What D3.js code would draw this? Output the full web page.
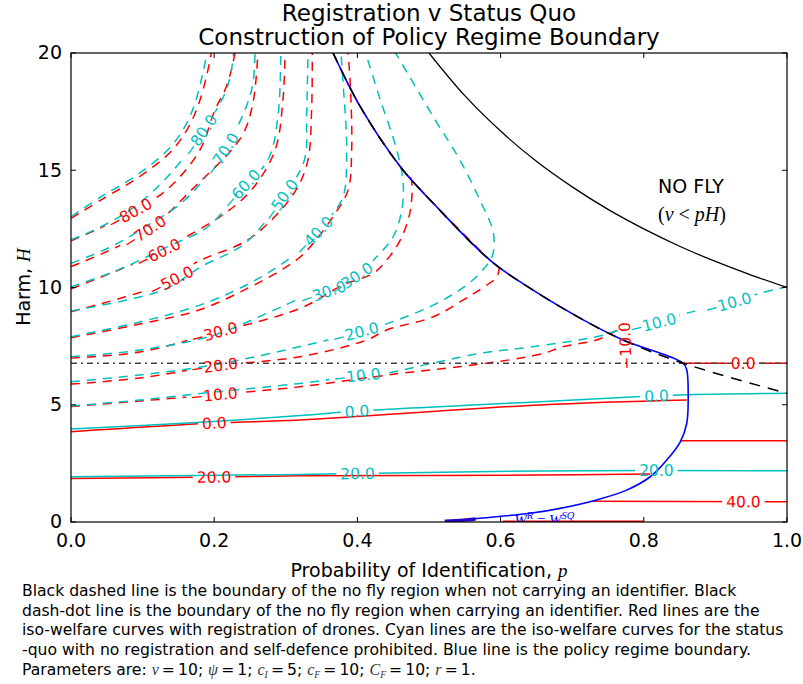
<!DOCTYPE html>
<html><head><meta charset="utf-8">
<script src="https://cdn.jsdelivr.net/npm/d3@7"></script>
<style>
body{margin:0;background:#fff;}
svg{display:block;font-family:"DejaVu Sans",sans-serif;}
</style></head><body>
<svg id="chart" width="803" height="684"></svg>
<script>
// ---------------- data (p = probability of identification, H = harm) ----------------
const pTicks = [0, 0.2, 0.4, 0.6, 0.8, 1.0];
const hTicks = [0, 5, 10, 15, 20];

const noFlyBoundary = [[0.5,20],[0.55,18.18],[0.6,16.67],[0.65,15.38],[0.7,14.29],[0.75,13.33],[0.8,12.5],[0.85,11.76],[0.9,11.11],[0.95,10.53],[1.0,10.0]];
const noIdBoundary = [[0.366,20],[0.404,17.71],[0.46,15.15],[0.506,13.59],[0.585,11.17],[0.641,9.97],[0.716,8.61],[0.771,7.76],[0.855,6.77],[1.0,5.49]];
const idBoundary = [[0,6.77],[1,6.77]];
const policyBoundary = [[0.366,20],[0.404,17.71],[0.46,15.15],[0.506,13.59],[0.585,11.17],[0.641,9.97],[0.716,8.61],[0.771,7.76],[0.855,6.77],[0.86,6.48],[0.862,5.34],[0.86,4.21],[0.851,3.42],[0.832,2.64],[0.809,1.93],[0.776,1.36],[0.734,0.94],[0.683,0.58],[0.641,0.37],[0.571,0.16],[0.522,0.01]];
const policyBoundaryFoot = [[0.522,0.03],[0.548,0.08],[0.565,0.13]];
const redAlongBoundary = [[0.366,20],[0.404,17.71],[0.46,15.15],[0.506,13.59],[0.585,11.17]];

// registration (red) iso-welfare curves
const redM90 = [[0,12.95],[0.045,13.79],[0.092,14.65],[0.139,15.78],[0.163,16.78],[0.178,17.8],[0.19,19.1],[0.196,20]];
const redM80 = [[0,11.99],[0.082,13.15],[0.135,14.2],[0.18,15.86],[0.201,17.57],[0.215,18.42],[0.224,19.27],[0.229,20]];
const redM70 = [[0,10.89],[0.103,12.37],[0.173,14.3],[0.238,16.43],[0.254,17.85],[0.261,20]];
const redM60 = [[0,9.94],[0.122,11.47],[0.149,11.95],[0.215,13.16],[0.252,14.16],[0.285,15.86],[0.296,18.0],[0.299,20]];
const redM50 = [[0,8.97],[0.14,10.28],[0.173,11.04],[0.247,12.03],[0.293,13.3],[0.317,14.3],[0.331,15.44],[0.336,17.5],[0.337,20]];
const redM40 = [[0,7.86],[0.096,8.44],[0.18,9.05],[0.247,9.97],[0.294,10.75],[0.32,11.3],[0.338,11.88],[0.366,13.02],[0.387,14.16],[0.392,15.86],[0.39,18.71],[0.387,20]];
const redM30 = [[0,6.99],[0.096,7.25],[0.2,8.06],[0.32,9.11],[0.38,10.11],[0.422,10.6],[0.441,11.17],[0.46,12.03],[0.474,13.3],[0.474,14.72],[0.465,14.93]];
const redM20 = [[0,5.88],[0.096,6.14],[0.2,6.65],[0.32,7.05],[0.413,7.76],[0.441,8.19],[0.506,8.75],[0.548,9.47],[0.574,9.97],[0.595,10.46],[0.598,10.83]];
const redM10 = [[0,4.92],[0.096,5.16],[0.2,5.42],[0.32,5.77],[0.46,6.34],[0.562,6.7],[0.655,7.15],[0.688,7.48],[0.734,7.76],[0.753,8.02],[0.77,8.23],[0.774,7.55],[0.774,6.78]];
const red0Left = [[0,3.85],[0.2,4.22],[0.32,4.35],[0.655,4.99],[0.86,5.2]];
const red0Right = [[0.855,6.77],[1.0,6.77]];
const red20Left = [[0,1.86],[0.2,1.92],[0.32,1.97],[0.655,2.0],[0.809,2.05]];
const red20Right = [[0.851,3.47],[1.0,3.47]];
const red40 = [[0.729,0.88],[1.0,0.86]];
const red60 = [[0.603,0.03],[0.8,0.03]];

// status quo (cyan) iso-welfare curves
const cyanM90 = [[0,13.02],[0.042,13.87],[0.089,14.73],[0.135,15.86],[0.159,16.86],[0.173,17.85],[0.184,19.13],[0.19,20]];
const cyanM80 = [[0,12.03],[0.042,12.59],[0.089,13.45],[0.135,14.73],[0.18,16.47],[0.215,18.28],[0.224,19.27],[0.227,20]];
const cyanM70 = [[0,11.03],[0.056,11.74],[0.112,12.74],[0.159,13.73],[0.211,15.69],[0.243,17.57],[0.254,18.71],[0.257,20]];
const cyanM60 = [[0,10.03],[0.066,10.75],[0.135,11.74],[0.191,12.59],[0.238,14.2],[0.275,15.44],[0.289,17.28],[0.293,20]];
const cyanM50 = [[0,9.0],[0.089,9.54],[0.135,9.97],[0.182,10.89],[0.243,11.88],[0.293,13.73],[0.326,15.44],[0.329,17.28],[0.331,20]];
const cyanM40 = [[0,7.9],[0.096,8.53],[0.18,9.25],[0.25,10.19],[0.306,11.26],[0.339,12.2],[0.362,13.02],[0.38,13.87],[0.385,15.86],[0.38,18.71],[0.377,20]];
const cyanM30 = [[0,7.05],[0.096,7.33],[0.2,7.97],[0.278,8.96],[0.322,9.54],[0.352,9.77],[0.392,10.36],[0.427,11.31],[0.45,12.17],[0.462,13.3],[0.464,14.44],[0.455,15.86],[0.432,18.0],[0.413,19.84],[0.411,20]];
const cyanM20 = [[0,5.98],[0.096,6.27],[0.2,6.7],[0.32,7.48],[0.397,8.06],[0.436,8.4],[0.506,9.25],[0.553,10.11],[0.575,10.75],[0.588,11.31],[0.59,12.31],[0.571,13.73],[0.543,15.44],[0.506,17.28],[0.455,19.91],[0.453,20]];
const cyanM10 = [[0,4.95],[0.096,5.2],[0.2,5.54],[0.32,5.91],[0.399,6.23],[0.441,6.35],[0.506,6.78],[0.575,7.21],[0.641,7.46],[0.734,7.9],[0.767,8.19],[0.813,8.46],[0.86,8.9],[0.918,9.32],[0.962,9.75],[1.0,10.03]];
const cyan0 = [[0,3.97],[0.182,4.25],[0.331,4.56],[0.399,4.73],[0.655,5.13],[0.79,5.34],[0.851,5.42],[1.0,5.49]];
const cyan20 = [[0,1.93],[0.32,2.03],[0.426,2.08],[0.655,2.18],[1.0,2.19]];

// ---------------- drawing ----------------
const RED = "#ff0000", CYAN = "#00bfbf";
const svg = d3.select('#chart');
const X0 = 71, X1 = 787, Y0 = 53, Y1 = 522;
const x = d3.scaleLinear().domain([0, 1]).range([X0, X1]);
const y = d3.scaleLinear().domain([0, 20]).range([Y1, Y0]);
const defs = svg.append('defs');
defs.append('clipPath').attr('id', 'plotclip').append('rect')
  .attr('x', X0).attr('y', Y0).attr('width', X1 - X0).attr('height', Y1 - Y0);

const smooth = d3.line().x(d => x(d[0])).y(d => y(d[1])).curve(d3.curveCatmullRom.alpha(0.5));
const straight = d3.line().x(d => x(d[0])).y(d => y(d[1]));

const plot = svg.append('g').attr('clip-path', 'url(#plotclip)');
const lineG = plot.append('g');
const labelG = svg.append('g').attr('clip-path', 'url(#plotclip)');

const specs = [
  {pts: redM90, color: RED, level: -90},
  {pts: redM80, color: RED, level: -80, at: [[0.082, 13.16]]},
  {pts: redM70, color: RED, level: -70, at: [[0.103, 12.37]]},
  {pts: redM60, color: RED, level: -60, at: [[0.122, 11.47]]},
  {pts: redM50, color: RED, level: -50, at: [[0.14, 10.28]]},
  {pts: redM40, color: RED, level: -40},
  {pts: redM30, color: RED, level: -30, at: [[0.2, 8.06]]},
  {pts: redM20, color: RED, level: -20, at: [[0.2, 6.65]]},
  {pts: redM10, color: RED, level: -10, at: [[0.2, 5.42], [0.774, 7.5]]},
  {pts: red0Left, color: RED, level: 0, at: [[0.2, 4.22]]},
  {pts: red0Right, color: RED, level: 0, at: [[0.939, 6.77]], lin: true},
  {pts: red20Left, color: RED, level: 20, at: [[0.2, 1.92]]},
  {pts: red20Right, color: RED, level: 20, lin: true},
  {pts: red40, color: RED, level: 40, at: [[0.939, 0.87]], lin: true},
  {pts: red60, color: RED, level: 60, lin: true},
  {pts: cyanM90, color: CYAN, level: -90},
  {pts: cyanM80, color: CYAN, level: -80, at: [[0.18, 16.47]]},
  {pts: cyanM70, color: CYAN, level: -70, at: [[0.211, 15.69]]},
  {pts: cyanM60, color: CYAN, level: -60, at: [[0.238, 14.2]]},
  {pts: cyanM50, color: CYAN, level: -50, at: [[0.293, 13.73]]},
  {pts: cyanM40, color: CYAN, level: -40, at: [[0.339, 12.2]]},
  {pts: cyanM30, color: CYAN, level: -30, at: [[0.352, 9.77], [0.392, 10.36]]},
  {pts: cyanM20, color: CYAN, level: -20, at: [[0.397, 8.06]]},
  {pts: cyanM10, color: CYAN, level: -10, at: [[0.399, 6.23], [0.813, 8.46], [0.918, 9.32]]},
  {pts: cyan0, color: CYAN, level: 0, at: [[0.399, 4.73], [0.818, 5.36]]},
  {pts: cyan20, color: CYAN, level: 20, at: [[0.4, 2.08], [0.818, 2.19]]}
];

// red dashes peeking along the boundary (beneath)
lineG.append('path').attr('d', smooth(redAlongBoundary)).attr('fill', 'none')
  .attr('stroke', RED).attr('stroke-width', 1.5).attr('stroke-dasharray', '9,7');

specs.forEach((s, i) => {
  const path = lineG.append('path')
    .attr('d', (s.lin ? straight : smooth)(s.pts))
    .attr('fill', 'none').attr('stroke', s.color).attr('stroke-width', 1.5)
    .attr('stroke-dasharray', s.level < 0 ? '9,7' : null);
  if (!s.at) return;
  const node = path.node();
  const L = node.getTotalLength();
  const holes = [];
  s.at.forEach(a => {
    const tx = x(a[0]), ty = y(a[1]);
    let best = 0, bd = Infinity;
    for (let t = 0; t <= L; t += 0.5) {
      const q = node.getPointAtLength(t);
      const d = (q.x - tx) ** 2 + (q.y - ty) ** 2;
      if (d < bd) { bd = d; best = t; }
    }
    const q0 = node.getPointAtLength(Math.max(0, best - 5));
    const q1 = node.getPointAtLength(Math.min(L, best + 5));
    let ang = Math.atan2(q1.y - q0.y, q1.x - q0.x) * 180 / Math.PI;
    if (ang > 90) ang -= 180;
    if (ang < -90) ang += 180;
    if (ang > 80) ang -= 180;
    const c = node.getPointAtLength(best);
    const txt = labelG.append('text')
      .attr('transform', `translate(${c.x},${c.y}) rotate(${ang})`)
      .attr('text-anchor', 'middle').attr('dy', '0.36em')
      .attr('fill', s.color).style('font-size', '15.5px')
      .text(d3.format('.1f')(s.level));
    const w = txt.node().getComputedTextLength();
    holes.push({cx: c.x, cy: c.y, ang, w});
  });
  const m = defs.append('mask').attr('id', 'm' + i).attr('maskUnits', 'userSpaceOnUse')
    .attr('x', 0).attr('y', 0).attr('width', 803).attr('height', 684);
  m.append('rect').attr('x', 0).attr('y', 0).attr('width', 803).attr('height', 684).attr('fill', '#fff');
  holes.forEach(h => {
    m.append('rect').attr('transform', `translate(${h.cx},${h.cy}) rotate(${h.ang})`)
      .attr('x', -h.w / 2 - 4).attr('y', -8).attr('width', h.w + 8).attr('height', 16).attr('fill', '#000');
  });
  path.attr('mask', `url(#m${i})`);
});

// identifier no-fly boundary (dash-dot)
plot.append('path').attr('d', straight(idBoundary)).attr('fill', 'none')
  .attr('stroke', '#444').attr('stroke-width', 1.5).attr('stroke-dasharray', '6,4,2,4');
// policy regime boundary (blue)
plot.append('path').attr('d', smooth(policyBoundary)).attr('fill', 'none')
  .attr('stroke', '#0000ff').attr('stroke-width', 1.6);
plot.append('path').attr('d', smooth(policyBoundaryFoot)).attr('fill', 'none')
  .attr('stroke', '#2a00c8').attr('stroke-width', 3.5);
// no identifier boundary (black dashed)
plot.append('path').attr('d', smooth(noIdBoundary)).attr('fill', 'none')
  .attr('stroke', '#000').attr('stroke-width', 1.5).attr('stroke-dasharray', '11,8');
// no fly boundary v = pH
plot.append('path').attr('d', smooth(noFlyBoundary)).attr('fill', 'none')
  .attr('stroke', '#000').attr('stroke-width', 1.3);

// W^R = W^SQ label (partly clipped at the axis)
const wl = plot.append('text').attr('x', x(0.619)).attr('y', y(-0.13))
  .attr('fill', '#0000ff').style('font-family', '"Liberation Serif",serif').style('font-style', 'italic').style('font-size', '15px');
wl.append('tspan').text('W');
wl.append('tspan').attr('dy', -6).style('font-size', '10.5px').text('R');
wl.append('tspan').attr('dy', 6).style('font-style', 'normal').text(' = ');
wl.append('tspan').text('W');
wl.append('tspan').attr('dy', -6).style('font-size', '10.5px').text('SQ');

// NO FLY annotation
svg.append('text').attr('x', 691).attr('y', 193).attr('text-anchor', 'middle')
  .style('font-size', '19px').text('NO FLY');
const nf = svg.append('text').attr('x', 692).attr('y', 221).attr('text-anchor', 'middle')
  .style('font-family', '"Liberation Serif",serif').style('font-size', '20px');
nf.append('tspan').text('(');
nf.append('tspan').style('font-style', 'italic').text('v');
nf.append('tspan').text(' < ');
nf.append('tspan').style('font-style', 'italic').text('pH');
nf.append('tspan').text(')');

// axes frame
svg.append('rect').attr('x', X0).attr('y', Y0).attr('width', X1 - X0).attr('height', Y1 - Y0)
  .attr('fill', 'none').attr('stroke', '#000').attr('stroke-width', 1.2);
const tk = 5;
pTicks.forEach(v => {
  svg.append('line').attr('x1', x(v)).attr('x2', x(v)).attr('y1', Y1).attr('y2', Y1 - tk).attr('stroke', '#000');
  svg.append('line').attr('x1', x(v)).attr('x2', x(v)).attr('y1', Y0).attr('y2', Y0 + tk).attr('stroke', '#000');
  svg.append('text').attr('x', x(v)).attr('y', Y1 + 25).attr('text-anchor', 'middle')
    .style('font-size', '19px').text(d3.format('.1f')(v));
});
hTicks.forEach(v => {
  svg.append('line').attr('x1', X0).attr('x2', X0 + tk).attr('y1', y(v)).attr('y2', y(v)).attr('stroke', '#000');
  svg.append('line').attr('x1', X1).attr('x2', X1 - tk).attr('y1', y(v)).attr('y2', y(v)).attr('stroke', '#000');
  svg.append('text').attr('x', X0 - 9).attr('y', y(v)).attr('dy', '0.33em').attr('text-anchor', 'end')
    .style('font-size', '19px').text(v);
});

// axis labels
const xl = svg.append('text').attr('x', 429).attr('y', 577).attr('text-anchor', 'middle').style('font-size', '19px');
xl.append('tspan').text('Probability of Identification, ');
xl.append('tspan').style('font-family', '"Liberation Serif",serif').style('font-style', 'italic').text('p');
const yl = svg.append('text').attr('transform', 'translate(30,287) rotate(-90)').attr('text-anchor', 'middle').style('font-size', '19px');
yl.append('tspan').text('Harm, ');
yl.append('tspan').style('font-family', '"Liberation Serif",serif').style('font-style', 'italic').text('H');

// title
svg.append('text').attr('x', 429).attr('y', 21).attr('text-anchor', 'middle').style('font-size', '23px').text('Registration v Status Quo');
svg.append('text').attr('x', 429).attr('y', 45).attr('text-anchor', 'middle').style('font-size', '23px').text('Construction of Policy Regime Boundary');

// caption
const captionLines = [
  'Black dashed line is the boundary of the no fly region when not carrying an identifier. Black',
  'dash-dot line is the boundary of the no fly region when carrying an identifier. Red lines are the',
  'iso-welfare curves with registration of drones. Cyan lines are the iso-welfare curves for the status',
  '-quo with no registration and self-defence prohibited. Blue line is the policy regime boundary.'
];
captionLines.forEach((t, i) => {
  svg.append('text').attr('x', 22).attr('y', 596 + i * 19.6).style('font-size', '15.6px').text(t);
});
const pl = svg.append('text').attr('x', 22).attr('y', 674.5).style('font-size', '15.6px');
const serifIt = s => pl.append('tspan').style('font-family', '"Liberation Serif",serif').style('font-style', 'italic').style('font-size', '16px').style('fill', '#333').text(s);
const plain = s => pl.append('tspan').text(s);
const sub = s => pl.append('tspan').attr('dy', 3).style('font-size', '9.5px').style('font-family', '"Liberation Serif",serif').style('font-style', 'italic').style('fill', '#333').text(s);
const up = s => pl.append('tspan').attr('dy', -3).text(s);
const eq = '\u2009=\u2009';
plain('Parameters are: '); serifIt('v'); plain(eq + '10; '); serifIt('ψ'); plain(eq + '1; ');
serifIt('c'); sub('I'); up(eq + '5; '); serifIt('c'); sub('F'); up(eq + '10; ');
serifIt('C'); sub('F'); up(eq + '10; '); serifIt('r'); plain(eq + '1.');
</script></body></html>
